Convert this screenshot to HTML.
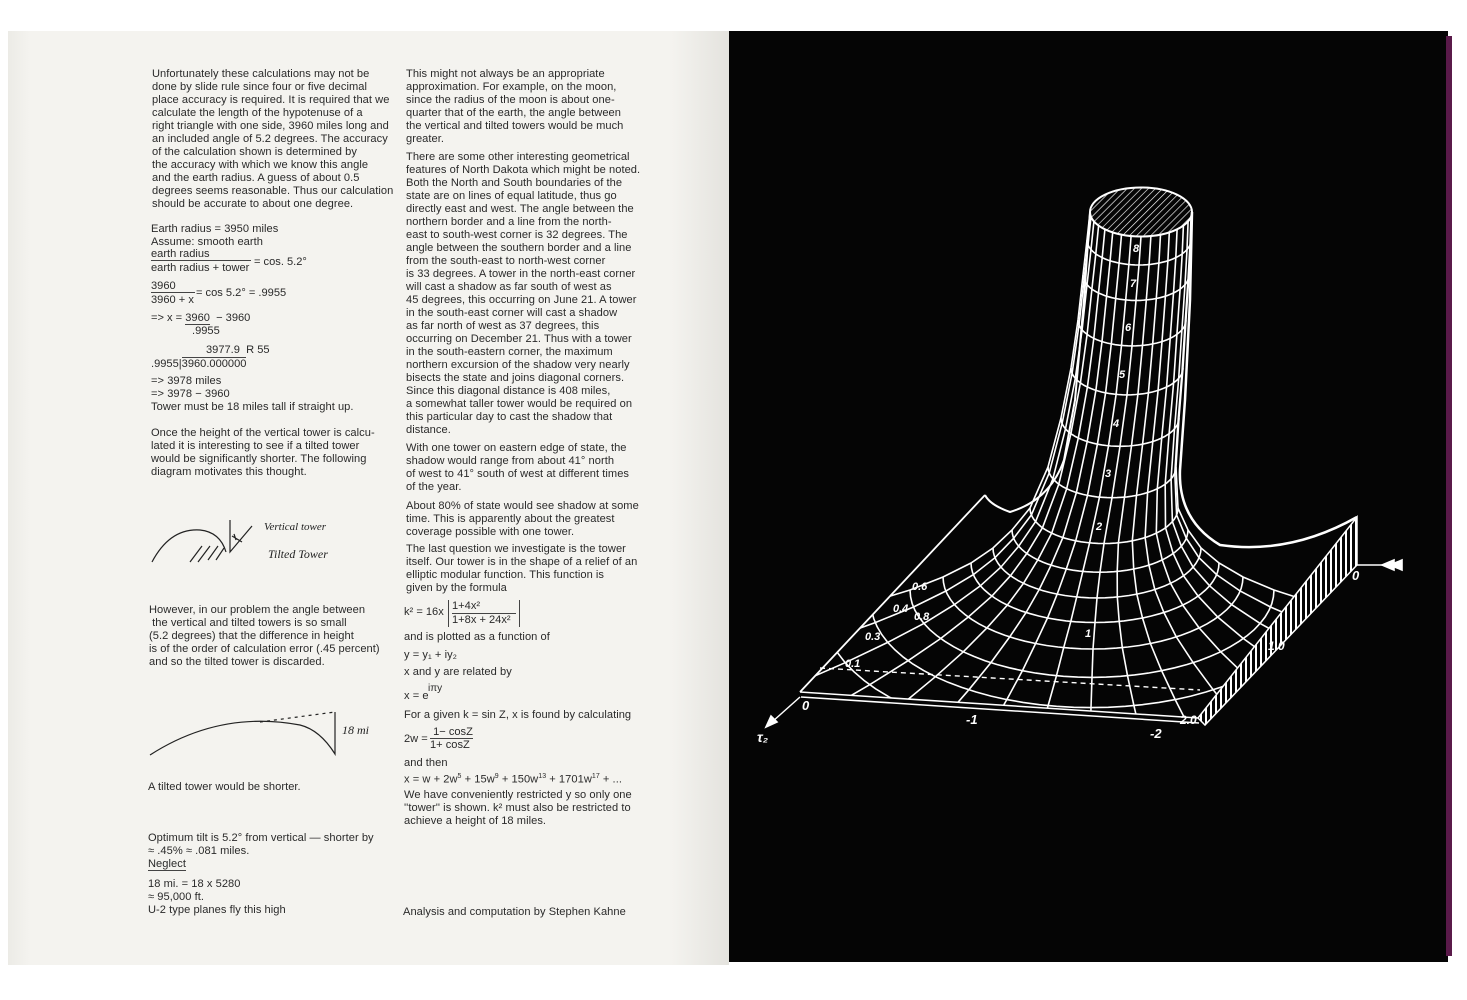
<!DOCTYPE html>
<html><head><meta charset="utf-8">
<style>
html,body{margin:0;padding:0;background:#fff;}
body{width:1467px;height:1000px;position:relative;overflow:hidden;font-family:"Liberation Sans",sans-serif;}
#lp{position:absolute;left:8px;top:31px;width:721px;height:934px;background:linear-gradient(90deg,#ecebe6 0%,#f4f3ef 3%,#f4f3ef 92%,#e4e3de 100%);}
#rp{position:absolute;left:729px;top:31px;width:719px;height:931px;background:#050505;}
#edge{position:absolute;left:1446px;top:36px;width:6px;height:920px;background:#5a1a4a;}
.t{position:absolute;font-size:11.1px;line-height:13px;color:#2a2a2a;white-space:nowrap;letter-spacing:0.05px;}
.fr{position:absolute;font-size:11.1px;color:#2a2a2a;white-space:nowrap;}
.ul{border-bottom:1px solid #444;}
sup{font-size:7px;}
</style></head><body>
<div id="lp"></div>
<div id="rp"></div>
<div id="edge"></div>

<div class="t" style="left:152px;top:68px">Unfortunately these calculations may not be<br>done by slide rule since four or five decimal<br>place accuracy is required. It is required that we<br>calculate the length of the hypotenuse of a<br>right triangle with one side, 3960 miles long and<br>an included angle of 5.2 degrees. The accuracy<br>of the calculation shown is determined by<br>the accuracy with which we know this angle<br>and the earth radius. A guess of about 0.5<br>degrees seems reasonable. Thus our calculation<br>should be accurate to about one degree.</div>

<div class="t" style="left:151px;top:223px">Earth radius = 3950 miles<br>Assume: smooth earth</div>
<div class="fr" style="left:151px;top:248px"><span style="display:inline-block;border-bottom:1px solid #444;width:100px">earth radius</span></div>
<div class="fr" style="left:151px;top:262px">earth radius + tower</div>
<div class="fr" style="left:254px;top:256px">= cos. 5.2°</div>
<div class="fr" style="left:151px;top:280px"><span style="display:inline-block;border-bottom:1px solid #444;width:44px">3960</span></div>
<div class="fr" style="left:151px;top:294px">3960 + x</div>
<div class="fr" style="left:196px;top:287px">= cos 5.2° = .9955</div>
<div class="fr" style="left:151px;top:312px">=&gt; x = <span class="ul">3960</span> &nbsp;− 3960</div>
<div class="fr" style="left:192px;top:325px">.9955</div>
<div class="fr" style="left:206px;top:344px">3977.9 &nbsp;R 55</div>
<div class="fr" style="left:151px;top:358px">.9955|<span style="border-top:1px solid #444">3960.000000</span></div>
<div class="t" style="left:151px;top:375px">=&gt; 3978 miles<br>=&gt; 3978 − 3960<br>Tower must be 18 miles tall if straight up.</div>

<div class="t" style="left:151px;top:427px">Once the height of the vertical tower is calcu-<br>lated it is interesting to see if a tilted tower<br>would be significantly shorter. The following<br>diagram motivates this thought.</div>

<svg style="position:absolute;left:140px;top:500px" width="230" height="270" viewBox="0 0 230 270">
<g fill="none" stroke="#222" stroke-width="1.2">
<path d="M12 62 Q30 28 60 30 Q80 32 86 52"/>
<path d="M50 62 L62 46 M58 62 L70 46 M68 60 L78 46 M76 60 L84 48"/>
<path d="M90 20 L90 52 L112 26 M92 36 L102 42 M94 34 L96 40"/>
<path d="M10 255 Q80 210 160 225 Q180 230 195 254 L195 212" />
<path d="M120 222 L195 212" stroke-dasharray="3 4"/>
</g>
<text x="124" y="30" font-family="Liberation Serif,serif" font-style="italic" font-size="11" fill="#222">Vertical tower</text>
<text x="128" y="58" font-family="Liberation Serif,serif" font-style="italic" font-size="12" fill="#222">Tilted Tower</text>
<text x="202" y="234" font-family="Liberation Serif,serif" font-style="italic" font-size="12" fill="#222">18 mi</text>
</svg>

<div class="t" style="left:149px;top:604px">However, in our problem the angle between<br>&nbsp;the vertical and tilted towers is so small<br>(5.2 degrees) that the difference in height<br>is of the order of calculation error (.45 percent)<br>and so the tilted tower is discarded.</div>

<div class="t" style="left:148px;top:781px">A tilted tower would be shorter.</div>
<div class="t" style="left:148px;top:832px">Optimum tilt is 5.2° from vertical — shorter by<br>≈ .45% ≈ .081 miles.</div>
<div class="t" style="left:148px;top:858px"><span class="ul">Neglect</span></div>
<div class="t" style="left:148px;top:878px">18 mi. = 18 x 5280<br>≈ 95,000 ft.<br>U-2 type planes fly this high</div>

<div class="t" style="left:406px;top:68px">This might not always be an appropriate<br>approximation. For example, on the moon,<br>since the radius of the moon is about one-<br>quarter that of the earth, the angle between<br>the vertical and tilted towers would be much<br>greater.</div>
<div class="t" style="left:406px;top:151px">There are some other interesting geometrical<br>features of North Dakota which might be noted.<br>Both the North and South boundaries of the<br>state are on lines of equal latitude, thus go<br>directly east and west. The angle between the<br>northern border and a line from the north-<br>east to south-west corner is 32 degrees. The<br>angle between the southern border and a line<br>from the south-east to north-west corner<br>is 33 degrees. A tower in the north-east corner<br>will cast a shadow as far south of west as<br>45 degrees, this occurring on June 21. A tower<br>in the south-east corner will cast a shadow<br>as far north of west as 37 degrees, this<br>occurring on December 21. Thus with a tower<br>in the south-eastern corner, the maximum<br>northern excursion of the shadow very nearly<br>bisects the state and joins diagonal corners.<br>Since this diagonal distance is 408 miles,<br>a somewhat taller tower would be required on<br>this particular day to cast the shadow that<br>distance.</div>
<div class="t" style="left:406px;top:442px">With one tower on eastern edge of state, the<br>shadow would range from about 41° north<br>of west to 41° south of west at different times<br>of the year.</div>
<div class="t" style="left:406px;top:500px">About 80% of state would see shadow at some<br>time. This is apparently about the greatest<br>coverage possible with one tower.</div>
<div class="t" style="left:406px;top:543px">The last question we investigate is the tower<br>itself. Our tower is in the shape of a relief of an<br>elliptic modular function. This function is<br>given by the formula</div>
<div class="fr" style="left:404px;top:606px">k² = 16x</div>
<div class="fr" style="left:448px;top:600px;border-left:1px solid #444;border-right:1px solid #444;padding:0 3px;line-height:13px"><span class="ul" style="display:inline-block;width:64px">1+4x²</span><br>1+8x + 24x²</div>
<div class="t" style="left:404px;top:631px">and is plotted as a function of</div>
<div class="t" style="left:404px;top:649px">y = y₁ + iy₂</div>
<div class="t" style="left:404px;top:666px">x and y are related by</div>
<div class="t" style="left:404px;top:690px">x = e</div>
<div class="fr" style="left:428px;top:683px;font-size:10px">iπy</div>
<div class="t" style="left:404px;top:709px">For a given k = sin Z, x is found by calculating</div>
<div class="fr" style="left:404px;top:733px">2w =</div>
<div class="fr" style="left:430px;top:726px;line-height:13px"><span class="ul">&nbsp;1− cosZ</span><br>1+ cosZ</div>
<div class="t" style="left:404px;top:757px">and then<br>x = w + 2w<sup>5</sup> + 15w<sup>9</sup> + 150w<sup>13</sup> + 1701w<sup>17</sup> + ...</div>
<div class="t" style="left:404px;top:789px">We have conveniently restricted y so only one<br>''tower'' is shown. k² must also be restricted to<br>achieve a height of 18 miles.</div>
<div class="t" style="left:403px;top:906px">Analysis and computation by Stephen Kahne</div>

<svg id="plot" style="position:absolute;left:0;top:0" width="1467" height="1000">
<defs>
<clipPath id="pl"><polygon points="800,692 1198,718 1357,517 985,495"/></clipPath>
<pattern id="hatch" width="5" height="5" patternUnits="userSpaceOnUse" patternTransform="rotate(45)"><line x1="0" y1="0" x2="0" y2="5" stroke="#fff" stroke-width="1.3"/></pattern>
<pattern id="vh" width="5" height="5" patternUnits="userSpaceOnUse"><line x1="1" y1="0" x2="1" y2="5" stroke="#fff" stroke-width="2"/></pattern>
</defs>
<g id="g" fill="none" stroke="#fff" stroke-width="1.6"></g>
<g fill="#fff" font-family="Liberation Sans,sans-serif" font-weight="bold" font-style="italic" font-size="11">
<text x="1133" y="252">8</text><text x="1130" y="287">7</text><text x="1125" y="331">6</text><text x="1119" y="378">5</text><text x="1113" y="427">4</text><text x="1105" y="477">3</text><text x="1096" y="530">2</text><text x="1085" y="637">1</text>
<text x="914" y="620">0.8</text><text x="912" y="590">0.6</text><text x="893" y="612">0.4</text><text x="865" y="640">0.3</text><text x="845" y="667">0.1</text>
<text x="802" y="710" font-size="13">0</text><text x="966" y="724" font-size="13">-1</text><text x="1150" y="738" font-size="13">-2</text><text x="1180" y="724" font-size="12">2.0</text>
<text x="1352" y="580" font-size="13">0</text><text x="1268" y="650" font-size="12">1.0</text><text x="757" y="742" font-size="14">τ₂</text>
</g>
</svg>
<script>
(function(){
var g=document.getElementById('g'),NS='http://www.w3.org/2000/svg';
function el(t,a,p){var e=document.createElementNS(NS,t);for(var k in a)e.setAttribute(k,a[k]);(p||g).appendChild(e);return e;}
var clip=el('g',{'clip-path':'url(#pl)'});
var rings=[[1141,212,51],[1139,240,52],[1136,275,53],[1132,320,54],[1127,368,56],[1120,418,59],[1112,467,64],[1104,508,74],[1100,530,88],[1097,548,104],[1095,563,124],[1093,577,150],[1092,590,182],[1091,602,220],[1090,614,265],[1090,626,320],[1090,640,390],[1090,655,470]];
var K=0.48;
function pt(r,th){return [r[0]+r[2]*Math.cos(th),r[1]+r[2]*K*Math.sin(th)];}
rings.forEach(function(r,i){
 if(i==0)return;
 var d='';for(var j=0;j<=40;j++){var p=pt(r,Math.PI*j/40);d+=(j?'L':'M')+p[0].toFixed(1)+' '+p[1].toFixed(1);}
 el('path',{d:d},i>6?clip:g);
});
for(var m=0;m<=16;m++){
 var th=Math.PI*m/16,d='',d2='';
 rings.forEach(function(r,i){var p=pt(r,th);
  if(i<=7)d+=(i?'L':'M')+p[0].toFixed(1)+' '+p[1].toFixed(1);
  if(i>=7)d2+=(i>7?'L':'M')+p[0].toFixed(1)+' '+p[1].toFixed(1);});
 el('path',{d:d});el('path',{d:d2},clip);
}
el('ellipse',{cx:1141,cy:212,rx:51,ry:24.5,fill:'url(#hatch)',stroke:'#fff','stroke-width':2});
el('path',{d:'M1192 212 L1190 300 L1185 400 L1180 470 Q1178 520 1220 545 Q1290 555 1357 517','stroke-width':2.5});
el('path',{d:'M1090 212 L1084 300 L1075 400 L1064 460 Q1050 500 1010 512 Q990 505 985 495','stroke-width':2});
el('path',{d:'M985 495 L800 692','stroke-width':1.8});
el('path',{d:'M800 692 L1198 718 M801 697 L1199 723','stroke-width':1.5});
el('path',{d:'M820 668 L1200 690','stroke-dasharray':'5 4','stroke-width':1.4});
el('polygon',{points:'1198,718 1357,517 1357,565 1205,725',fill:'url(#vh)',stroke:'#fff','stroke-width':1.5});
el('path',{d:'M800 697 L772 722','stroke-width':1.5});
el('polygon',{points:'766,727 771,716 777,722',fill:'#fff'});
el('path',{d:'M1357 565 L1400 565','stroke-width':1.5});
el('polygon',{points:'1382,565 1394,560 1394,570',fill:'#fff'});
el('polygon',{points:'1390,565 1402,560 1402,570',fill:'#fff'});
})();
</script>
</body></html>
